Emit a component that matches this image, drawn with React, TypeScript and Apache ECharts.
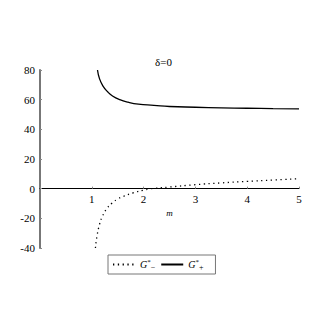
import React, { useEffect, useRef } from "react";
import * as echarts from "echarts";

const xTicks = [1, 2, 3, 4, 5];
const yTicks = [-40, -20, 0, 20, 40, 60, 80];

const gMinusX = [1.07, 1.1, 1.15, 1.2, 1.3, 1.4, 1.5, 1.6, 1.8, 2.0, 2.1, 2.2, 2.5, 3.0, 3.5, 4.0, 4.5, 5.0];
const gMinusY = [-40, -32, -24, -19, -13, -9.5, -7, -5.3, -2.8, -1, -0.3, 0.2, 1.1, 2.7, 3.9, 4.9, 5.8, 6.7];

const gPlusX = [1.11, 1.15, 1.22, 1.3, 1.4, 1.54, 1.7, 1.9, 2.2, 2.5, 3.0, 3.5, 4.0, 4.5, 5.0];
const gPlusY = [80, 74, 69, 65.5, 62.5, 60, 58.3, 57, 56.2, 55.4, 54.9, 54.5, 54.2, 54.0, 53.8];

const seriesNames = ["G-", "G+"];

const FONT = "Times New Roman";

export default function App() {
  const ref = useRef<HTMLDivElement>(null);
  useEffect(() => {
    if (!ref.current) return;
    const chart = echarts.init(ref.current, null, { renderer: "svg" });
    const toPairs = (xs: number[], ys: number[]) => xs.map((x, i) => [x, ys[i]]);
    chart.setOption({
      animation: false,
      backgroundColor: "#fff",
      title: {
        text: "δ=0",
        left: "center",
        top: 51,
        textStyle: { fontFamily: FONT, fontSize: 11, fontWeight: "normal", color: "#000" },
      },
      grid: { left: 40, right: 28, top: 70, bottom: 79, containLabel: false },
      xAxis: {
        type: "value",
        min: 0,
        max: 5,
        interval: 1,
        name: "m",
        nameLocation: "middle",
        nameGap: -41,
        nameTextStyle: { fontFamily: FONT, fontStyle: "italic", fontSize: 9, color: "#000" },
        axisLine: { onZero: true, lineStyle: { color: "#000", width: 1 } },
        axisTick: { show: true, length: 2, inside: true, lineStyle: { color: "#888" } },
        axisLabel: {
          fontFamily: FONT,
          fontSize: 11,
          color: "#000",
          margin: -55,
          formatter: (v: number) => (xTicks.includes(v) ? String(v) : ""),
        },
        splitLine: { show: false },
      },
      yAxis: {
        type: "value",
        min: -40,
        max: 80,
        interval: 20,
        axisLine: { show: true, onZero: true, lineStyle: { color: "#777", width: 2 } },
        axisTick: { show: true, length: 2, inside: true, lineStyle: { color: "#888" } },
        axisLabel: {
          fontFamily: FONT,
          fontSize: 11,
          color: "#000",
          margin: 5,
          formatter: (v: number) => (yTicks.includes(v) ? String(v) : ""),
        },
        splitLine: { show: false },
      },
      legend: {
        left: 108,
        top: 255,
        orient: "horizontal",
        padding: [3, 12, 3, 4],
        itemGap: 5,
        itemWidth: 22,
        itemHeight: 8,
        borderColor: "#777",
        borderWidth: 1,
        borderRadius: 0,
        data: seriesNames,
        itemStyle: { opacity: 0 },
        textStyle: {
          fontFamily: FONT,
          fontSize: 10,
          color: "#000",
          rich: {
            g: { fontFamily: FONT, fontStyle: "italic", fontSize: 10, color: "#000" },
            sup: { fontFamily: FONT, fontSize: 7, color: "#000", verticalAlign: "top", lineHeight: 13 },
            sub: { fontFamily: FONT, fontSize: 8, color: "#000", verticalAlign: "bottom", lineHeight: 13 },
          },
        },
        formatter: (name: string) =>
          name === "G-" ? "{g|G}{sup|*}{sub|−}" : "{g|G}{sup|*}{sub|+}",
      },
      series: [
        {
          name: seriesNames[0],
          type: "line",
          smooth: true,
          symbol: "none",
          data: toPairs(gMinusX, gMinusY),
          lineStyle: { color: "#000", width: 1.3, type: [1.3, 3.5] },
          itemStyle: { color: "#000" },
        },
        {
          name: seriesNames[1],
          type: "line",
          smooth: true,
          symbol: "none",
          data: toPairs(gPlusX, gPlusY),
          lineStyle: { color: "#000", width: 1.3, type: "solid" },
          itemStyle: { color: "#000" },
        },
      ],
    });
    return () => chart.dispose();
  }, []);
  return <div ref={ref} style={{ width: 327, height: 327, margin: -8 }} />;
}
